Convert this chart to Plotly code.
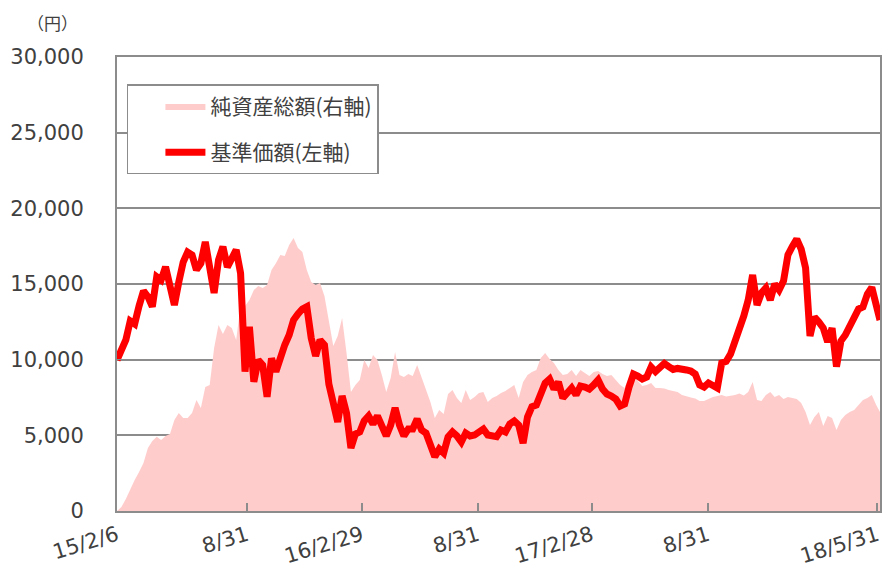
import pandas as pd
import plotly.graph_objects as go

# weekly observation dates (categories on the x axis)
dates = list(pd.date_range("2015-02-06", "2018-05-25", freq="7D")) + [pd.Timestamp("2018-05-31")]

# 基準価額 (円, left axis)
nav = [
    9980, 10530, 11300, 12560, 12360, 13550, 14540, 14160, 13500, 15480,
    15260, 16140, 14820, 13610, 15130, 16450, 17110, 16920, 15930, 16370,
    17780, 16260, 14410, 16590, 17470, 16120, 16720, 17250, 15710, 9210,
    12180, 8540, 9980, 9650, 7550, 10090, 9210, 10310, 10970, 11630,
    12620, 13020, 13350, 13500, 11430, 10240, 11300, 10970, 8390, 7140,
    5880, 7600, 6460, 4160, 5090, 5220, 5950, 6280, 5750, 6280,
    5480, 4960, 5680, 6810, 5680, 4960, 5420, 5420, 6080, 5350,
    5150, 4300, 3590, 4100, 3830, 4890, 5220, 4960, 4560, 5150,
    4960, 5020, 5220, 5420, 5020, 4960, 4910, 5350, 5220, 5750,
    5950, 5680, 4490, 6210, 6890, 7000, 7670, 8460, 8720, 8060,
    8520, 7470, 7800, 8130, 7670, 8260, 8190, 8060, 8330, 8660,
    8060, 7730, 7600, 7400, 6940, 7070, 8190, 9050, 8920, 8720,
    8850, 9520, 9210, 9520, 9750, 9540, 9350, 9420, 9320, 9320,
    9250, 9050, 8330, 8190, 8460, 8260, 8130, 9780, 9880, 10370,
    11170, 12030, 12890, 13940, 15600, 13610, 14410, 14740, 13940, 15000,
    14600, 15200, 16920, 17480, 17970, 17310, 16060, 11560, 12820, 12490,
    12090, 11170, 12090, 9540, 11230, 11630, 12160, 12890, 13350, 13480,
    14340, 14770, 13750, 12620,
]

# 純資産総額 (百万円, right axis)
net_assets = [
    0, 260, 790, 1450, 2050, 2580, 3170, 4160, 4630, 4910,
    4690, 4960, 5090, 6010, 6480, 6150, 6150, 6480, 7340, 6810,
    8190, 8330, 10770, 12290, 11700, 12290, 12090, 11300, 13610, 13550,
    13940, 14600, 14870, 14740, 14930, 15930, 16370, 16920, 16850, 17580,
    18040, 17380, 17110, 15930, 15130, 14930, 15070, 14210, 12490, 10900,
    11560, 12750, 10440, 7860, 8330, 8660, 9980, 9450, 10310, 9980,
    8990, 7860, 8790, 10510, 8990, 8850, 9050, 8920, 9650, 8790,
    8000, 7200, 6150, 6670, 6410, 7730, 8000, 7470, 7140, 8000,
    7340, 7530, 7800, 7860, 7200, 7470, 7600, 7800, 7930, 8130,
    8330, 7470, 8520, 8990, 9190, 9320, 10110, 10440, 10040, 9780,
    9320, 8990, 9050, 9320, 8920, 9320, 9120, 8920, 9190, 9250,
    9050, 8920, 8990, 8660, 8330, 8130, 8850, 9320, 8590, 8260,
    8330, 8460, 8130, 8130, 8090, 8000, 7930, 7860, 7670, 7570,
    7500, 7430, 7270, 7270, 7400, 7530, 7600, 7670, 7570, 7600,
    7670, 7760, 7630, 7860, 8520, 7340, 7270, 7670, 7860, 7530,
    7670, 7400, 7530, 7470, 7400, 7140, 6540, 5680, 6210, 6540,
    5620, 6280, 6150, 5350, 6010, 6340, 6540, 6670, 7000, 7340,
    7470, 7670, 7000, 6540,
]

# the last label sits a few px left of the frame, as in the reference
tick_dates = ["2015-02-06", "2015-08-31", "2016-02-29", "2016-08-31",
              "2017-02-28", "2017-08-31", "2018-05-27"]
tick_labels = ["15/2/6", "8/31", "16/2/29", "8/31", "17/2/28", "8/31", "18/5/31"]
y_ticks = [0, 5000, 10000, 15000, 20000, 25000, 30000]

TXT = "#404040"
GRID = "#8c8c8c"
FONT = "DejaVu Sans"
JP = "Noto Sans CJK JP"

fig = go.Figure()
fig.add_trace(go.Scatter(
    x=dates, y=net_assets, name="純資産総額(右軸)", yaxis="y2",
    mode="lines", fill="tozeroy", fillcolor="#ffcccc",
    line=dict(width=0, color="#ffcccc"), legendgroup="a",
))
fig.add_trace(go.Scatter(
    x=dates, y=nav, name="基準価額(左軸)", yaxis="y",
    mode="lines", line=dict(width=7, color="#ff0000"), legendgroup="b",
))

fig.update_layout(
    width=882, height=568,
    margin=dict(l=117, r=2, t=57, b=57),
    paper_bgcolor="white", plot_bgcolor="white",
    font=dict(family=FONT, color=TXT, size=21),
    xaxis=dict(
        type="date", range=["2015-02-06", "2018-05-31"], automargin=False,
        tickvals=tick_dates, ticktext=tick_labels, tickangle=-17,
        ticks="inside", ticklen=8, tickcolor=GRID, tickwidth=1.5,
        showgrid=False, showline=True, mirror=True, linecolor=GRID, linewidth=2,
        tickfont=dict(family=FONT, size=21, color=TXT),
        ticklabelstandoff=2, ticklabeloverflow="allow",
    ),
    yaxis=dict(
        range=[0, 30000], tickvals=y_ticks, tickformat=",", automargin=False,
        side="left", overlaying="y2",
        showgrid=True, gridcolor=GRID, gridwidth=1.5,
        ticks="inside", ticklen=8, tickcolor=GRID,
        showline=True, mirror=True, linecolor=GRID, linewidth=2,
        tickfont=dict(family=FONT, size=21, color=TXT),
        ticklabelstandoff=27, zeroline=False, ticklabeloverflow="allow",
    ),
    yaxis2=dict(
        range=[0, 30000], side="right", showticklabels=False, automargin=False,
        showgrid=False, zeroline=False, showline=False, ticks="",
    ),
    showlegend=True,
    legend=dict(
        x=0.013, y=0.94, xanchor="left", yanchor="top",
        bgcolor="white", bordercolor=GRID, borderwidth=1.5,
        font=dict(family=JP, size=21, color=TXT),
        traceorder="grouped", tracegroupgap=16,
        itemwidth=40, indentation=32,
    ),
    annotations=[dict(
        text="（円）", xref="paper", yref="paper", x=-0.085, y=1.075,
        xanchor="center", yanchor="middle", showarrow=False,
        font=dict(family=JP, size=17, color=TXT),
    )],
)

fig.write_html(
    "out.html",
    config={"displayModeBar": False},
    post_script="document.body.style.margin='0';document.body.style.overflow='hidden';",
)
